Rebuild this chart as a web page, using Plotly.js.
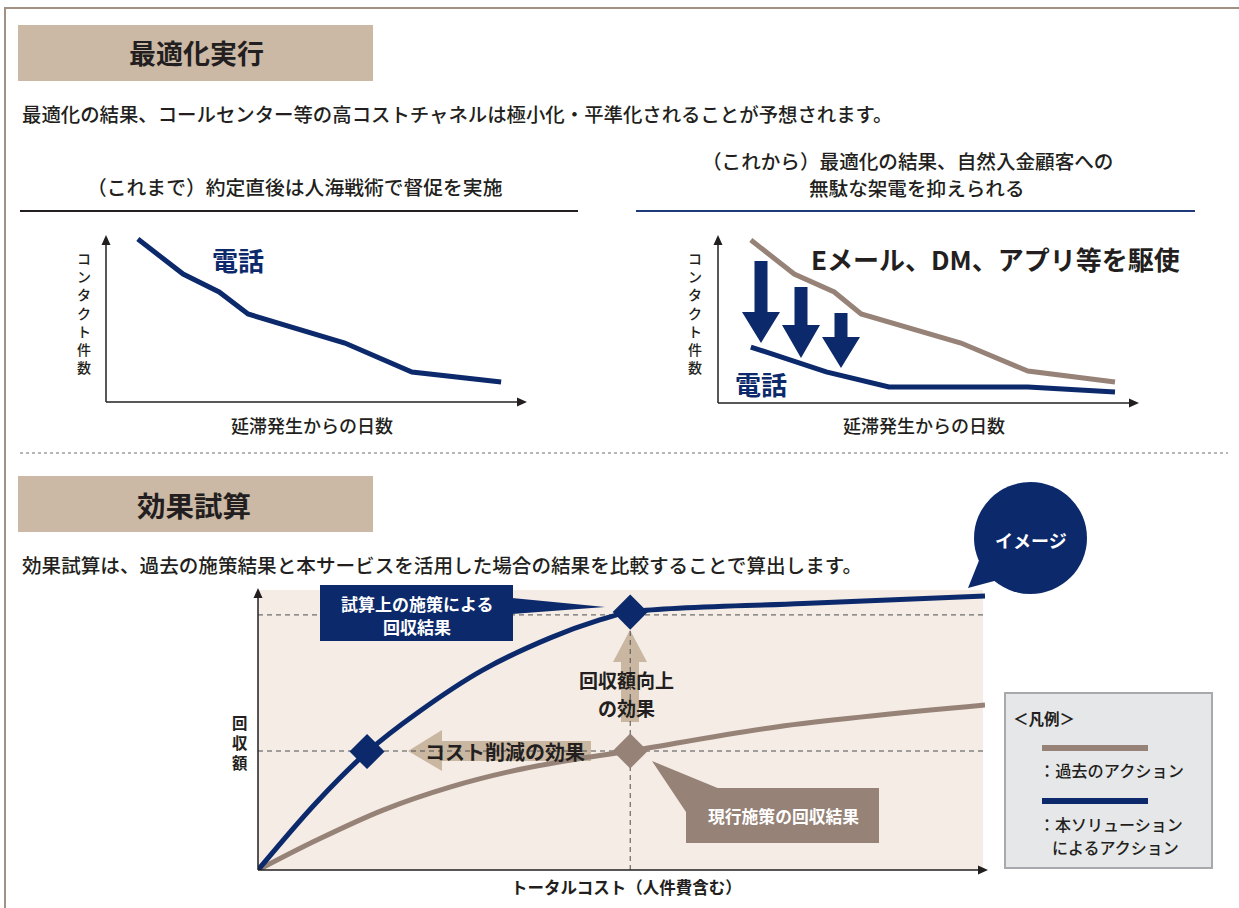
<!DOCTYPE html>
<html><head><meta charset="utf-8">
<script src="https://cdn.plot.ly/plotly-3.0.1.min.js"></script>
<style>html,body{margin:0;padding:0;background:#fff;}#chart{width:1239px;height:908px;}</style>
</head><body><div id="chart"></div>
<script>
// ---------- data ----------
const pastDays = [7.6, 18.4, 27.0, 33.9, 57.0, 73.0, 94.3];
const pastPhone = [97.6, 76.6, 65.9, 52.7, 35.3, 18.0, 12.0];
const futureDaysAll = [7.8, 18.1, 27.6, 34.0, 57.7, 73.6, 94.3];
const futureAll = [97.0, 76.8, 66.1, 53.0, 35.7, 19.0, 12.5];
const futureDaysPhone = [7.8, 25.7, 40.6, 73.6, 94.3];
const futurePhone = [33.3, 18.5, 9.5, 9.5, 6.5];
const costPast = [0, 8.1, 17.2, 26.4, 35.6, 44.7, 51.2, 71.3, 100];
const recPast = [0, 10.7, 21.4, 29.6, 35.7, 40.0, 42.5, 51.1, 58.9];
const costNew = [0, 8.1, 15, 21.9, 30.9, 40.2, 47.0, 51.2, 75, 100];
const recNew = [0, 24.3, 42.1, 56.1, 71.4, 82.9, 89.3, 92.1, 95.2, 97.9];
const newMarkCost = [15, 51.2];
const newMarkRec = [42.3, 92.1];
const pastMarkCost = [51.2];
const pastMarkRec = [42.5];
const levelNew = 91.1, levelPast = 42.5, costPoint = 51.2;

// ---------- helpers ----------
const W = 1239, H = 908;
const NAVY = '#0c2a6b', GREY = '#968277', TAN = '#cbb8a5', ATAN = '#c9b7a2', DARK = '#231f20', BG = '#f4ece5';
const FONT = '"Noto Sans CJK JP", "Noto Sans", sans-serif';
const X = p => p / W, Y = p => 1 - p / H;
const shapes = [], ann = [];
function poly(pts, fill, layer) {
  shapes.push({type: 'path', xref: 'paper', yref: 'paper', layer: layer || 'above',
    path: 'M' + pts.map(p => X(p[0]) + ',' + Y(p[1])).join('L') + 'Z', fillcolor: fill, line: {width: 0}});
}
function seg(x0, y0, x1, y1, color, width, dash, layer) {
  shapes.push({type: 'line', xref: 'paper', yref: 'paper', layer: layer || 'above',
    x0: X(x0), y0: Y(y0), x1: X(x1), y1: Y(y1), line: {color: color, width: width, dash: dash || 'solid'}});
}
function rect(x0, y0, x1, y1, fill, lc, lw, layer) {
  shapes.push({type: 'rect', xref: 'paper', yref: 'paper', layer: layer || 'above',
    x0: X(x0), y0: Y(y0), x1: X(x1), y1: Y(y1), fillcolor: fill, line: {color: lc || 'rgba(0,0,0,0)', width: lw || 0}});
}
function txt(x, y, text, size, color, xanchor, bold, extra) {
  ann.push(Object.assign({xref: 'paper', yref: 'paper', x: X(x), y: Y(y), text: bold ? '<b>' + text + '</b>' : text,
    showarrow: false, xanchor: xanchor || 'center', yanchor: 'middle', borderpad: 0,
    font: {family: FONT, size: size, color: color || DARK, weight: bold ? 700 : 500}}, extra || {}));
}
function vtxt(x, yMid, text, size, color, bold) {
  txt(x, yMid, [...text].join('<br>'), size, color, 'center', bold);
}
function axisArrows(x0, y0, xTip, yTip) {
  seg(x0, y0, x0, yTip + 8, DARK, 1.5);
  poly([[x0, yTip], [x0 - 4.5, yTip + 10], [x0 + 4.5, yTip + 10]], DARK);
  seg(x0, y0, xTip - 8, y0, DARK, 1.5);
  poly([[xTip, y0], [xTip - 10, y0 - 4.5], [xTip - 10, y0 + 4.5]], DARK);
}
function downArrow(xc, top, hb, tip, sh, hh, fill) {
  poly([[xc - sh, top], [xc + sh, top], [xc + sh, hb], [xc + hh, hb], [xc, tip], [xc - hh, hb], [xc - sh, hb]], fill);
}

// ---------- frame ----------
rect(5, 8, 1260, 930, 'rgba(0,0,0,0)', '#a09184', 2, 'below');

// ---------- section 1 ----------
rect(18, 25, 373, 81, TAN);
txt(196, 53, '最適化実行', 27, DARK, 'center', true);
txt(21, 113, '最適化の結果、コールセンター等の高コストチャネルは極小化・平準化されることが予想されます。', 19.4, DARK, 'left');

txt(295, 186, '（これまで）約定直後は人海戦術で督促を実施', 19.8, DARK);
seg(20, 211, 578, 211, DARK, 2);
txt(907, 160, '（これから）最適化の結果、自然入金顧客への', 19.6, DARK);
txt(917, 187, '無駄な架電を抑えられる', 19.6, DARK);
seg(636, 211, 1195, 211, '#1e3a78', 2);

// left chart
axisArrows(106, 402, 527, 235);
vtxt(84, 313, 'コンタクト件数', 14, DARK);
txt(312, 425, '延滞発生からの日数', 18, DARK);
txt(238, 259, '電話', 26, NAVY, 'center', true);

// right chart
axisArrows(718, 403, 1139, 235);
vtxt(695, 313, 'コンタクト件数', 14, DARK);
txt(924, 425, '延滞発生からの日数', 18, DARK);
txt(761, 383, '電話', 26, NAVY, 'center', true);
txt(996, 258, 'Eメール、DM、アプリ等を駆使', 26, DARK, 'center', true);
downArrow(761, 261, 312, 343, 6.5, 19, NAVY);
downArrow(801, 287, 325, 358, 6.5, 19, NAVY);
downArrow(841, 313, 337, 368, 6.5, 19, NAVY);

// separator
seg(20, 453, 1228, 453, '#6d6e71', 1, '3px,3px');

// ---------- section 2 ----------
rect(18, 476, 373, 532, TAN);
txt(194, 504, '効果試算', 28.5, DARK, 'center', true);
txt(21, 564, '効果試算は、過去の施策結果と本サービスを活用した場合の結果を比較することで算出します。', 19.6, DARK, 'left');

// bottom chart background
rect(258, 590, 983, 870, BG, null, 0, 'below');
// dashed reference lines (data coords)
[levelNew, levelPast].forEach(v => shapes.push({type: 'line', xref: 'x3', yref: 'y3', layer: 'below',
  x0: 0, x1: 100, y0: v, y1: v, line: {color: '#4d4d4f', width: 1, dash: '5px,4px'}}));
shapes.push({type: 'line', xref: 'x3', yref: 'y3', layer: 'below', x0: costPoint, x1: costPoint, y0: 0, y1: levelNew,
  line: {color: '#4d4d4f', width: 1, dash: '5px,4px'}});
// tan arrows
poly([[621, 722], [639, 722], [639, 662], [647, 662], [630, 630], [613, 662], [621, 662]], ATAN, 'below');
poly([[591, 741], [591, 761], [442, 761], [442, 771], [408, 751], [442, 730], [442, 741]], ATAN, 'below');
axisArrows(258, 870, 988, 588);
vtxt(240, 742, '回収額', 15.4, DARK, true);
txt(627, 887, 'トータルコスト（人件費含む）', 16.5, DARK, 'center', true);
txt(627, 679, '回収額向上', 19, DARK, 'center', true);
txt(627, 707.5, 'の効果', 19, DARK, 'center', true);
txt(505, 751, 'コスト削減の効果', 20, DARK, 'center', true);

// navy callout
rect(320, 585, 513, 641, NAVY);
poly([[512, 598], [605, 607], [512, 614]], NAVY);
txt(417, 603, '試算上の施策による', 17, '#fff', 'center', true);
txt(417, 626, '回収結果', 17, '#fff', 'center', true);

// grey callout
rect(686, 788, 879, 843, GREY);
poly([[652, 761], [720, 789], [686, 789], [686, 812]], GREY);
txt(783, 816, '現行施策の回収結果', 16.8, '#fff', 'center', true);

// image bubble
shapes.push({type: 'circle', xref: 'paper', yref: 'paper', x0: X(974), x1: X(1087), y0: Y(482), y1: Y(594),
  fillcolor: NAVY, line: {width: 0}});
poly([[980, 558], [968, 588], [998, 580]], NAVY);
txt(1031, 540, 'イメージ', 18, '#fff', 'center', true);

// legend box
rect(1005, 693, 1212, 868, '#e6e7e8', '#a7a9ac', 2);
txt(1012, 718, '＜凡例＞', 15.5, DARK, 'left', true);
seg(1042, 748, 1148, 748, GREY, 6);
txt(1038, 770, '：過去のアクション', 16.2, DARK, 'left');
seg(1042, 801, 1148, 801, NAVY, 6);
txt(1038, 824, '：本ソリューション', 16, DARK, 'left');
txt(1051, 846.5, 'によるアクション', 16, DARK, 'left');

// ---------- traces ----------
const traces = [
  {x: pastDays, y: pastPhone, xaxis: 'x', yaxis: 'y', mode: 'lines', line: {color: NAVY, width: 5}, cliponaxis: false},
  {x: futureDaysAll, y: futureAll, xaxis: 'x2', yaxis: 'y2', mode: 'lines', line: {color: GREY, width: 5}, cliponaxis: false},
  {x: futureDaysPhone, y: futurePhone, xaxis: 'x2', yaxis: 'y2', mode: 'lines', line: {color: NAVY, width: 5}, cliponaxis: false},
  {x: costPast, y: recPast, xaxis: 'x3', yaxis: 'y3', mode: 'lines', line: {color: GREY, width: 5, shape: 'spline', smoothing: 1}, cliponaxis: false},
  {x: costNew, y: recNew, xaxis: 'x3', yaxis: 'y3', mode: 'lines', line: {color: NAVY, width: 5, shape: 'spline', smoothing: 1}, cliponaxis: false},
  {x: newMarkCost, y: newMarkRec, xaxis: 'x3', yaxis: 'y3', mode: 'markers', marker: {symbol: 'diamond', size: 27, color: NAVY, line: {width: 0}}, cliponaxis: false},
  {x: pastMarkCost, y: pastMarkRec, xaxis: 'x3', yaxis: 'y3', mode: 'markers', marker: {symbol: 'diamond', size: 27, color: GREY, line: {width: 0}}, cliponaxis: false}
];
const ax = (a, b) => ({domain: [X(a), X(b)], range: [0, 100], visible: false, fixedrange: true});
const ay = (top, bottom) => ({domain: [Y(bottom), Y(top)], range: [0, 100], visible: false, fixedrange: true});
const layout = {
  width: W, height: H, margin: {l: 0, r: 0, t: 0, b: 0}, showlegend: false,
  paper_bgcolor: '#fff', plot_bgcolor: 'rgba(0,0,0,0)', hovermode: false,
  xaxis: Object.assign(ax(106, 525), {anchor: 'y'}), yaxis: Object.assign(ay(235, 402), {anchor: 'x'}),
  xaxis2: Object.assign(ax(718, 1139), {anchor: 'y2'}), yaxis2: Object.assign(ay(235, 403), {anchor: 'x2'}),
  xaxis3: Object.assign(ax(258, 985), {anchor: 'y3'}), yaxis3: Object.assign(ay(590, 870), {anchor: 'x3'}),
  shapes: shapes, annotations: ann
};
Plotly.newPlot('chart', traces, layout, {staticPlot: true, displayModeBar: false});
</script></body></html>
